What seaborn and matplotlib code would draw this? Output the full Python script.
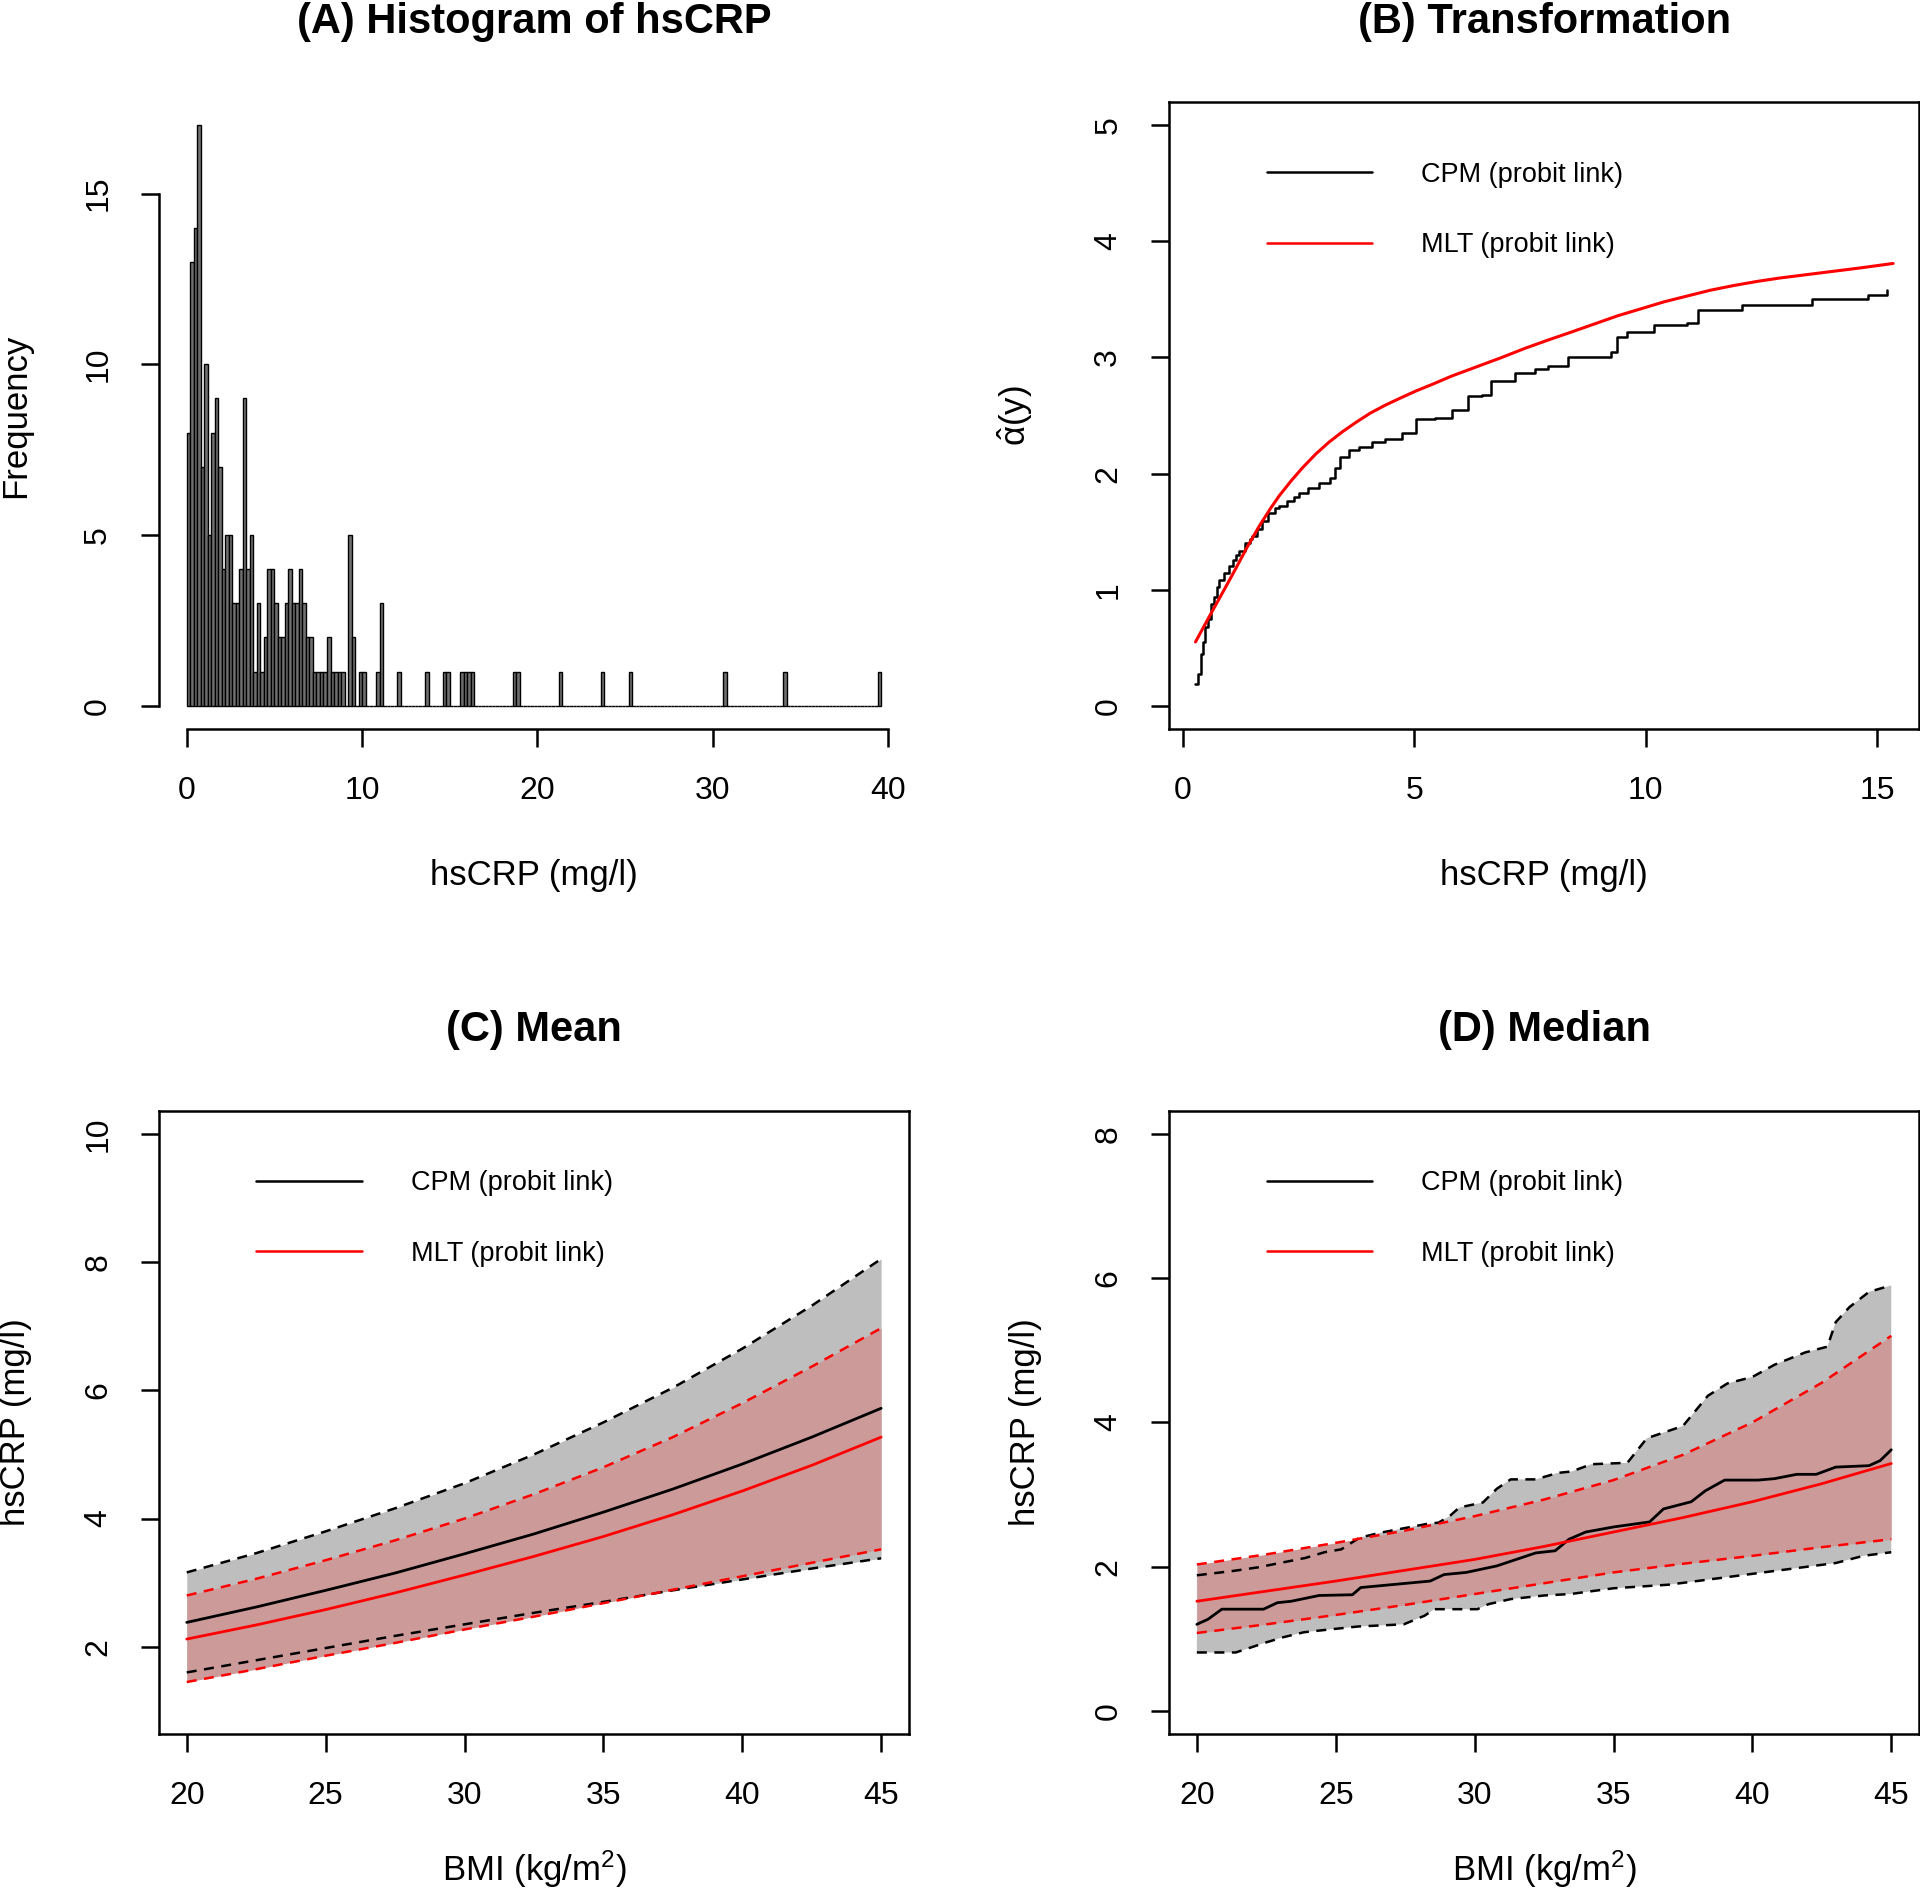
import numpy as np
import pandas as pd
import seaborn as sns
import matplotlib.pyplot as plt
from matplotlib.lines import Line2D

#(A) histogram: counts per 0.2-wide bin from 0 to 12.2, then single values in the tail
hist_counts_low = [8, 13, 14, 17, 7, 10, 5, 8, 9, 7,
                   4, 5, 5, 3, 3, 4, 9, 4, 5, 1,
                   3, 1, 2, 4, 4, 3, 2, 2, 3, 4,
                   3, 3, 4, 3, 2, 2, 1, 1, 1, 1,
                   2, 1, 1, 1, 1, 0, 5, 2, 0, 1,
                   1, 0, 0, 0, 1, 3, 0, 0, 0, 0, 1]
tail_bins = [13.6, 14.6, 14.8, 15.6, 15.8, 16.0, 16.2, 18.6, 18.8,
             21.2, 23.6, 25.2, 30.6, 34.0, 39.4]

#(B) transformation: CPM step function and MLT smooth curve
cpm_tr_x = [0.28, 0.33, 0.40, 0.45, 0.49, 0.55, 0.62, 0.68, 0.74, 0.79,
            0.90, 1.00, 1.08, 1.15, 1.23, 1.35, 1.45, 1.51, 1.60, 1.72,
            1.85, 2.00, 2.09, 2.25, 2.40, 2.52, 2.70, 2.94, 3.19, 3.30,
            3.41, 3.60, 3.80, 4.10, 4.38, 4.74, 5.03, 5.46, 5.81, 6.17,
            6.46, 6.67, 7.17, 7.60, 7.89, 8.32, 9.25, 9.39, 9.60, 10.18,
            10.90, 11.12, 12.08, 13.58, 14.80, 15.21]
cpm_tr_y = [0.19, 0.27, 0.45, 0.55, 0.68, 0.75, 0.88, 0.94, 1.02, 1.08,
            1.14, 1.20, 1.26, 1.30, 1.33, 1.40, 1.44, 1.46, 1.52, 1.59,
            1.66, 1.70, 1.72, 1.76, 1.80, 1.83, 1.88, 1.92, 1.96, 2.05,
            2.14, 2.20, 2.23, 2.27, 2.30, 2.35, 2.47, 2.48, 2.55, 2.67,
            2.68, 2.80, 2.87, 2.90, 2.93, 3.00, 3.05, 3.18, 3.22, 3.28,
            3.30, 3.41, 3.45, 3.50, 3.54, 3.58]
mlt_tr_x = [0.28, 0.58, 0.90, 1.16, 1.40, 1.66, 1.90, 2.09, 2.35, 2.59,
            2.88, 3.16, 3.45, 3.74, 4.05, 4.38, 4.70, 5.03, 5.40, 5.81,
            6.35, 6.89, 7.40, 7.89, 8.40, 8.90, 9.40, 9.90, 10.40, 10.90,
            11.40, 11.90, 12.40, 12.90, 13.40, 13.90, 14.60, 15.34]
mlt_tr_y = [0.55, 0.77, 1.00, 1.19, 1.37, 1.55, 1.70, 1.81, 1.94, 2.05,
            2.17, 2.27, 2.36, 2.44, 2.52, 2.59, 2.65, 2.71, 2.77, 2.84,
            2.92, 3.00, 3.08, 3.15, 3.22, 3.29, 3.36, 3.42, 3.48, 3.53,
            3.58, 3.62, 3.655, 3.685, 3.71, 3.735, 3.77, 3.81]

#(C) mean hsCRP by BMI
bmi_grid = [20, 22.5, 25, 27.5, 30, 32.5, 35, 37.5, 40, 42.5, 45]
cpm_mean = [2.38, 2.62, 2.88, 3.15, 3.45, 3.76, 4.10, 4.46, 4.85, 5.27, 5.72]
cpm_mean_up = [3.16, 3.46, 3.80, 4.16, 4.55, 5.00, 5.50, 6.04, 6.65, 7.32, 8.05]
cpm_mean_lo = [1.60, 1.79, 1.98, 2.17, 2.35, 2.53, 2.70, 2.88, 3.05, 3.22, 3.38]
mlt_mean = [2.12, 2.34, 2.58, 2.84, 3.12, 3.41, 3.72, 4.06, 4.43, 4.83, 5.27]
mlt_mean_up = [2.80, 3.06, 3.35, 3.66, 4.00, 4.38, 4.80, 5.27, 5.80, 6.37, 6.97]
mlt_mean_lo = [1.45, 1.65, 1.86, 2.06, 2.27, 2.47, 2.68, 2.89, 3.10, 3.31, 3.52]

#(D) median hsCRP by BMI
mlt_med = [1.52, 1.66, 1.80, 1.95, 2.10, 2.28, 2.48, 2.68, 2.90, 3.15, 3.43]
mlt_med_up = [2.03, 2.17, 2.33, 2.50, 2.70, 2.93, 3.20, 3.55, 4.00, 4.55, 5.20]
mlt_med_lo = [1.08, 1.20, 1.33, 1.47, 1.62, 1.77, 1.92, 2.04, 2.15, 2.27, 2.38]
cpm_med_bmi = [20.0, 20.4, 20.9, 22.4, 22.9, 23.4, 24.4, 25.6, 25.9, 28.4,
               28.9, 29.7, 30.8, 31.5, 32.2, 32.9, 33.4, 34.0, 35.0, 36.3,
               36.8, 37.8, 38.3, 39.0, 40.2, 40.8, 41.6, 42.3, 43.0, 44.2,
               44.6, 45.0]
cpm_med = [1.20, 1.27, 1.41, 1.41, 1.50, 1.52, 1.60, 1.61, 1.71, 1.80,
           1.89, 1.92, 2.01, 2.10, 2.19, 2.22, 2.38, 2.48, 2.55, 2.62,
           2.80, 2.90, 3.05, 3.20, 3.20, 3.22, 3.28, 3.28, 3.38, 3.40,
           3.47, 3.62]
cpm_up_bmi = [20.0, 21.3, 22.2, 23.9, 24.6, 25.2, 25.85, 26.6, 28.25, 28.7,
              29.1, 29.45, 30.3, 30.8, 31.3, 32.2, 33.0, 33.5, 34.2, 35.5,
              36.2, 37.5, 38.4, 39.1, 40.0, 40.8, 41.9, 42.7, 43.0, 43.5,
              44.2, 45.0]
cpm_med_up = [1.88, 1.94, 1.99, 2.12, 2.20, 2.24, 2.40, 2.47, 2.59, 2.61,
              2.70, 2.82, 2.89, 3.08, 3.21, 3.21, 3.30, 3.32, 3.42, 3.44,
              3.78, 3.95, 4.37, 4.54, 4.63, 4.80, 4.97, 5.05, 5.39, 5.60,
              5.81, 5.90]
cpm_lo_bmi = [20.0, 21.4, 22.5, 23.1, 23.85, 24.8, 25.8, 27.45, 28.2, 28.55,
              30.1, 30.5, 31.3, 32.5, 33.45, 35.0, 37.0, 38.0, 39.0, 40.0,
              41.0, 42.0, 43.0, 44.0, 45.0]
cpm_med_lo = [0.81, 0.81, 0.95, 1.02, 1.09, 1.13, 1.17, 1.20, 1.32, 1.41,
              1.41, 1.48, 1.55, 1.60, 1.62, 1.70, 1.75, 1.80, 1.85, 1.90,
              1.95, 2.00, 2.05, 2.15, 2.20]

#style
sns.set_style('ticks')
plt.rcParams['font.family'] = ['Liberation Sans', 'DejaVu Sans']
plt.rcParams['mathtext.fontset'] = 'custom'
plt.rcParams['mathtext.rm'] = 'Liberation Sans'
plt.rcParams['mathtext.it'] = 'Liberation Sans:italic'
for key in ['text.color', 'axes.labelcolor', 'xtick.color', 'ytick.color',
            'xtick.labelcolor', 'ytick.labelcolor']:
    plt.rcParams[key] = 'black'

GRAY = '#bebebe'
PINK = '#cd9a9a'
LW_AX = 1.8
DASH = (0, (4, 3))

fig = plt.figure(figsize=(19.2, 18.94), dpi=100)
w, h_top, h_bot = 0.3906, 0.331, 0.329
axA = fig.add_axes([0.0828, 0.6151, w, h_top])
axB = fig.add_axes([0.6089, 0.6151, w, h_top])
axC = fig.add_axes([0.0828, 0.0845, w, h_bot])
axD = fig.add_axes([0.6089, 0.0845, w, h_bot])


def r_axes(ax, title, xlabel, ylabel, xticks, yticks, box=True,
           xpad=38, ypad=37):
    ax.set_title(title, fontsize=30, fontweight='bold', pad=50, color='black')
    ax.set_xlabel(xlabel, fontsize=25, labelpad=xpad)
    ax.set_ylabel(ylabel, fontsize=25, labelpad=ypad)
    ax.set_xticks(xticks)
    ax.set_yticks(yticks)
    ax.tick_params(length=13, width=LW_AX, labelsize=23, color='black',
                   labelcolor='black')
    ax.tick_params(axis='x', pad=21)
    ax.tick_params(axis='y', pad=20)
    plt.setp(ax.get_yticklabels(), rotation=90, va='center')
    for s in ax.spines.values():
        s.set_linewidth(LW_AX)
        s.set_color('black')
        s.set_visible(box)


def legend(ax):
    handles = [Line2D([], [], color='black', lw=1.8),
               Line2D([], [], color='red', lw=1.8)]
    ax.legend(handles, ['CPM (probit link)', 'MLT (probit link)'],
              loc='upper left', bbox_to_anchor=(0.13, 0.905), frameon=False,
              fontsize=19.5, handlelength=3.9, handletextpad=1.8,
              labelspacing=1.65, borderpad=0, borderaxespad=0)


#(A) histogram
n_bins = 198
bin_w = 0.2
counts = np.zeros(n_bins)
counts[:len(hist_counts_low)] = hist_counts_low
for t in tail_bins:
    counts[int(round(t / bin_w))] += 1
hist_df = pd.DataFrame({'hscrp': (np.arange(n_bins) + 0.5) * bin_w, 'n': counts})
sns.histplot(data=hist_df, x='hscrp', weights='n', binwidth=bin_w,
             binrange=(0, n_bins * bin_w), ax=axA,
             color='#707070', edgecolor='black', linewidth=1.0, alpha=1)
axA.set_xlim(-1.58, 41.18)
axA.set_ylim(-0.68, 17.68)
r_axes(axA, '(A) Histogram of hsCRP', 'hsCRP (mg/l)', 'Frequency',
       [0, 10, 20, 30, 40], [0, 5, 10, 15], box=False)
axA.spines['left'].set_visible(True)
axA.spines['bottom'].set_visible(True)
axA.spines['left'].set_bounds(0, 15)
axA.spines['bottom'].set_bounds(0, 40)

#(B) transformation
sns.lineplot(x=cpm_tr_x, y=cpm_tr_y, ax=axB, color='black', lw=1.8,
             drawstyle='steps-post', estimator=None)
sns.lineplot(x=mlt_tr_x, y=mlt_tr_y, ax=axB, color='red', lw=2.2, estimator=None)
axB.set_xlim(-0.29, 15.9)
axB.set_ylim(-0.2, 5.2)
r_axes(axB, '(B) Transformation', 'hsCRP (mg/l)', r'$\mathregular{\hat{\alpha}(y)}$',
       [0, 5, 10, 15], [0, 1, 2, 3, 4, 5], ypad=42)
legend(axB)

#(C) mean
axC.fill_between(bmi_grid, cpm_mean_lo, cpm_mean_up, color=GRAY, lw=0)
axC.fill_between(bmi_grid, mlt_mean_lo, mlt_mean_up, color=PINK, lw=0)
for ys in (cpm_mean_up, cpm_mean_lo):
    sns.lineplot(x=bmi_grid, y=ys, ax=axC, color='black', lw=1.8, linestyle=DASH)
for ys in (mlt_mean_up, mlt_mean_lo):
    sns.lineplot(x=bmi_grid, y=ys, ax=axC, color='red', lw=1.8, linestyle=DASH)
sns.lineplot(x=bmi_grid, y=cpm_mean, ax=axC, color='black', lw=2.0)
sns.lineplot(x=bmi_grid, y=mlt_mean, ax=axC, color='red', lw=2.0)
axC.set_xlim(19.0, 46.0)
axC.set_ylim(0.64, 10.36)
r_axes(axC, '(C) Mean', r'BMI (kg/m$^2$)', 'hsCRP (mg/l)',
       [20, 25, 30, 35, 40, 45], [2, 4, 6, 8, 10], xpad=27)
legend(axC)

#(D) median
axD.fill(list(cpm_up_bmi) + cpm_lo_bmi[::-1], list(cpm_med_up) + cpm_med_lo[::-1],
         color=GRAY, lw=0)
axD.fill_between(bmi_grid, mlt_med_lo, mlt_med_up, color=PINK, lw=0)
sns.lineplot(x=cpm_up_bmi, y=cpm_med_up, ax=axD, color='black', lw=1.8, linestyle=DASH)
sns.lineplot(x=cpm_lo_bmi, y=cpm_med_lo, ax=axD, color='black', lw=1.8, linestyle=DASH)
for ys in (mlt_med_up, mlt_med_lo):
    sns.lineplot(x=bmi_grid, y=ys, ax=axD, color='red', lw=1.8, linestyle=DASH)
sns.lineplot(x=cpm_med_bmi, y=cpm_med, ax=axD, color='black', lw=2.0)
sns.lineplot(x=bmi_grid, y=mlt_med, ax=axD, color='red', lw=2.0)
axD.set_xlim(19.0, 46.0)
axD.set_ylim(-0.32, 8.32)
r_axes(axD, '(D) Median', r'BMI (kg/m$^2$)', 'hsCRP (mg/l)',
       [20, 25, 30, 35, 40, 45], [0, 2, 4, 6, 8], xpad=27)
legend(axD)

fig.savefig('out.png', dpi=100, facecolor='white')
